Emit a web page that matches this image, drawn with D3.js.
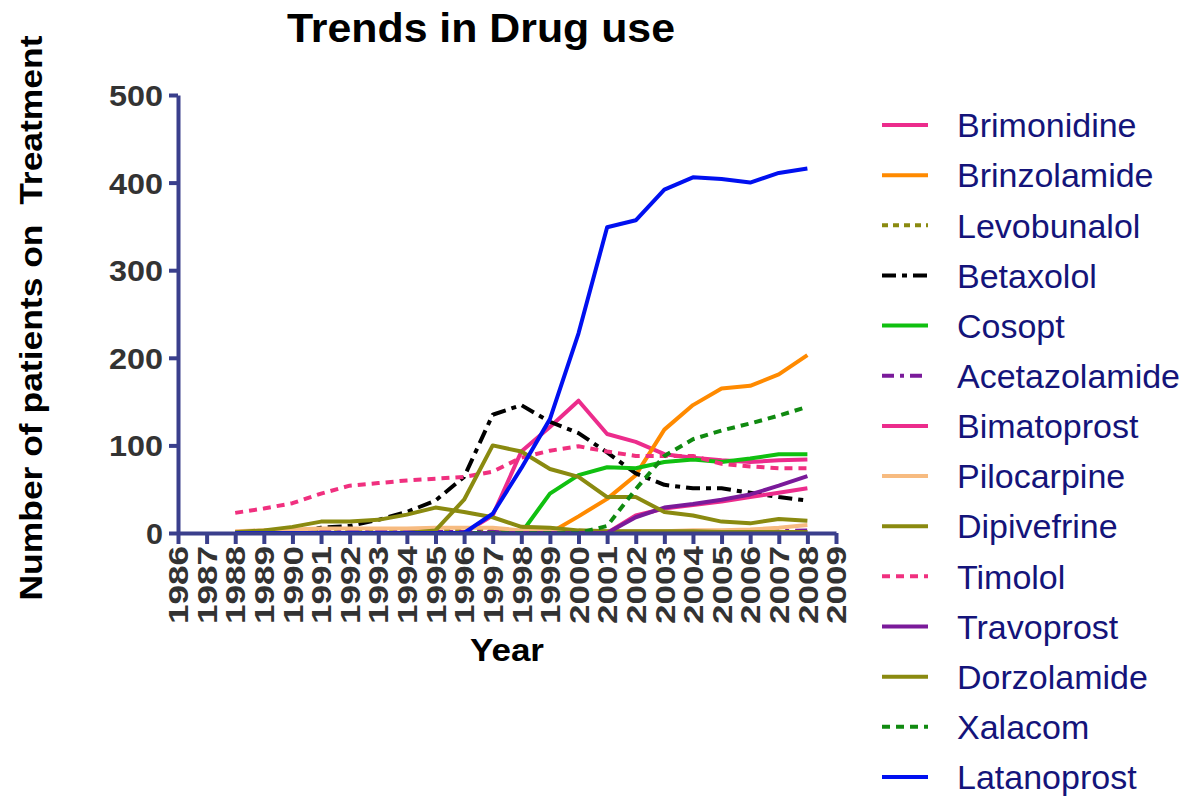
<!DOCTYPE html>
<html><head><meta charset="utf-8">
<script src="https://cdn.jsdelivr.net/npm/d3@7"></script>
<style>body{margin:0;background:#fff}svg{display:block}</style>
</head><body>
<svg id="c" width="1195" height="801"></svg>
<script>
const years = d3.range(1988, 2009);
const tickYears = d3.range(1986, 2010);
const yTicks = [0, 100, 200, 300, 400, 500];

const drugs = ["Brimonidine","Brinzolamide","Levobunalol","Betaxolol","Cosopt","Acetazolamide","Bimatoprost","Pilocarpine","Dipivefrine","Timolol","Travoprost","Dorzolamide","Xalacom","Latanoprost"];

const brimonidine   = [0,0,0,0,0,0,0,0,0,20,93,121,151,113,104,90,86,83,81,83,84];
const brinzolamide  = [0,0,0,0,0,0,0,0,0,0,0,0,19,39,66,118,146,165,168,181,203];
const levobunalol   = [1,1,2,2,2,3,3,3,3,3,2,2,1,1,1,1,1,1,1,1,1];
const betaxolol     = [0,0,0,6,8,15,24,37,64,135,146,127,114,92,68,55,51,51,46,41,37];
const cosopt        = [0,0,0,0,0,0,0,0,0,0,0,45,66,75,74,81,84,81,85,90,90];
const acetazolamide = [1,1,1,1,1,1,1,1,1,1,1,1,1,1,1,1,1,1,2,2,3];
const bimatoprost   = [0,0,0,0,0,0,0,0,0,0,0,0,0,0,20,28,32,36,41,46,51];
const pilocarpine   = [2,3,4,5,5,5,5,6,6,6,3,2,2,2,2,2,3,3,4,6,9];
const dipivefrine   = [1,3,7,13,13,15,21,29,24,18,7,6,3,2,2,2,2,1,1,1,1];
const timolol       = [23,28,34,45,54,57,60,62,64,70,86,94,99,93,88,88,88,79,76,74,74];
const travoprost    = [0,0,0,0,0,0,0,0,0,0,0,0,0,0,18,29,33,38,44,54,65];
const dorzolamide   = [0,0,0,0,0,0,0,3,38,100,93,73,64,41,41,24,20,13,11,16,14];
const xalacom       = [0,0,0,0,0,0,0,0,0,0,0,0,0,8,50,88,107,117,125,134,144];
const latanoprost   = [0,0,0,0,0,0,0,0,0,22,74,130,228,349,357,392,406,404,400,411,416];

const seriesValues = [brimonidine,brinzolamide,levobunalol,betaxolol,cosopt,acetazolamide,bimatoprost,pilocarpine,dipivefrine,timolol,travoprost,dorzolamide,xalacom,latanoprost];
const colors = ["#ec2c8c","#ff8a00","#8a8a10","#000000","#10c010","#7a1a9a","#ec2c8c","#f7bb80","#8a8a10","#f0307f","#7a1a9a","#8a8a10","#108a10","#0010f0"];
const dashes = [null,null,"6,5","14,6,5,6",null,"12,6,4,6",null,null,null,"8,6",null,null,"8,6",null];

const svg = d3.select("#c");
const x = d3.scaleLinear().domain([1986, 2009]).range([178, 836]);
const y = d3.scaleLinear().domain([0, 500]).range([533, 95]);
const axisColor = "#3a3f8c";
const ff = "Liberation Sans, Arial, sans-serif";

// title
svg.append("text").attr("x", 481).attr("y", 42).attr("text-anchor","middle")
  .attr("font-family",ff).attr("font-weight","bold")
  .attr("font-size", 41).attr("textLength", 388).attr("lengthAdjust","spacingAndGlyphs")
  .text("Trends in Drug use");

// y label
svg.append("text").attr("transform","translate(42,318) rotate(-90)").attr("text-anchor","middle")
  .attr("font-family",ff).attr("font-weight","bold")
  .attr("font-size", 31).style("white-space","pre")
  .attr("textLength", 565).attr("lengthAdjust","spacingAndGlyphs")
  .text("Number of patients on  Treatment");

// x label
svg.append("text").attr("x", 507).attr("y", 661).attr("text-anchor","middle")
  .attr("font-family",ff).attr("font-weight","bold")
  .attr("font-size", 32).attr("textLength", 74).attr("lengthAdjust","spacingAndGlyphs")
  .text("Year");

// lines
const line = d3.line().x((d,i)=>x(years[i])).y(d=>y(d));
const gl = svg.append("g");
seriesValues.forEach((vals,k)=>{
  gl.append("path").attr("d", line(vals)).attr("fill","none")
    .attr("stroke", colors[k]).attr("stroke-width", 4)
    .attr("stroke-linejoin","round")
    .attr("stroke-dasharray", dashes[k]);
});

// axes
const yAxis = svg.append("g").attr("transform","translate(178,0)")
  .call(d3.axisLeft(y).tickValues(yTicks).tickSize(9).tickPadding(6).tickSizeOuter(0));
yAxis.select(".domain").attr("stroke", axisColor).attr("stroke-width", 4);
yAxis.selectAll(".tick line").attr("stroke", axisColor).attr("stroke-width", 4);
yAxis.selectAll(".tick text").attr("font-family",ff)
  .attr("font-weight","bold").attr("font-size", 29).attr("fill","#333").attr("dy","0.36em")
  .attr("textLength", d => d === 0 ? 17 : 54).attr("lengthAdjust","spacingAndGlyphs");

const xAxis = svg.append("g").attr("transform","translate(0,533)")
  .call(d3.axisBottom(x).tickValues(tickYears).tickFormat(d3.format("d")).tickSize(11).tickSizeOuter(0));
xAxis.select(".domain").attr("stroke", axisColor).attr("stroke-width", 4);
xAxis.selectAll(".tick line").attr("stroke", axisColor).attr("stroke-width", 4);
xAxis.selectAll(".tick text").attr("font-family",ff)
  .attr("font-weight","bold").attr("font-size", 27).attr("fill","#333")
  .attr("text-anchor","end").attr("transform","rotate(-90)")
  .attr("x", -13).attr("y", 0).attr("dy","0.36em")
  .attr("textLength", 78).attr("lengthAdjust","spacingAndGlyphs");

// legend
const lg = svg.append("g");
drugs.forEach((name,k)=>{
  const yy = 125 + k*50.15;
  lg.append("line").attr("x1",882).attr("x2",928).attr("y1",yy).attr("y2",yy)
    .attr("stroke", colors[k]).attr("stroke-width",4).attr("stroke-dasharray", dashes[k]);
  lg.append("text").attr("x",957).attr("y",yy).attr("dy","0.36em")
    .attr("font-family",ff).attr("font-size",34)
    .attr("fill","#14147a").text(name);
});
</script>
</body></html>
